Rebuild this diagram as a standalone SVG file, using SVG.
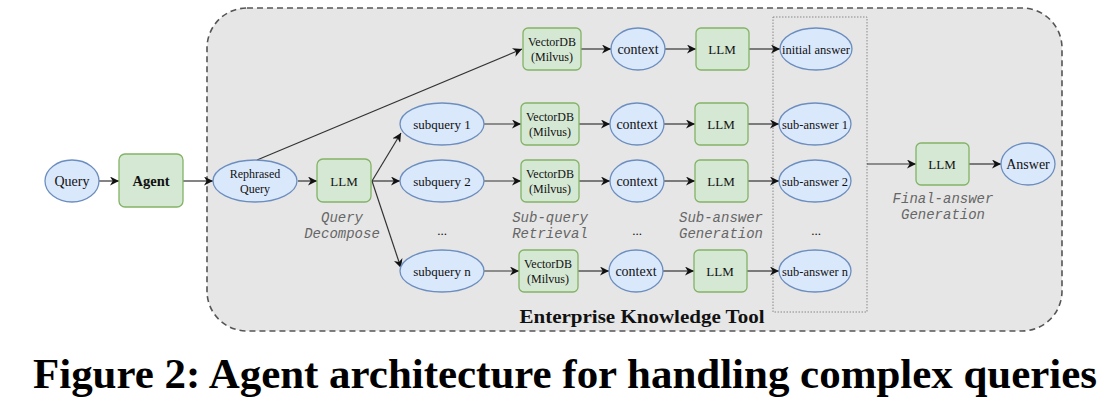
<svg xmlns="http://www.w3.org/2000/svg" width="1114" height="414" viewBox="0 0 1114 414">
<style>
.el{fill:#dae8fc;stroke:#6c8ebf;stroke-width:1.3}
.rc{fill:#d5e8d4;stroke:#82b366;stroke-width:1.3}
.t{font-family:"Liberation Serif",serif;font-size:13px;fill:#111;text-anchor:middle;dominant-baseline:central}
.s12{font-size:12px}
.s14{font-size:14px}
.tb{font-family:"Liberation Serif",serif;font-size:14.5px;font-weight:bold;fill:#111;text-anchor:middle;dominant-baseline:central}
.lab{font-family:"Liberation Mono",monospace;font-style:italic;font-size:14px;fill:#666;text-anchor:middle}
.ln{fill:none;stroke:#333;stroke-width:1.2;marker-end:url(#ah)}
</style>
<defs>
<marker id="ah" viewBox="0 0 10 10" refX="10" refY="5" markerWidth="9" markerHeight="9" markerUnits="userSpaceOnUse" orient="auto">
<path d="M0,0 L10,5 L0,10 L3,5 z" fill="#111"/>
</marker>
</defs>
<rect width="1114" height="414" fill="#fff"/>
<g id="container">
<rect x="207" y="8" width="855" height="323" rx="40" ry="40" fill="#e6e6e6" stroke="#555" stroke-width="1.6" stroke-dasharray="6,4"/>
<text x="642" y="323" font-family="Liberation Serif,serif" font-weight="bold" font-size="18" fill="#111" text-anchor="middle" textLength="245" lengthAdjust="spacingAndGlyphs">Enterprise Knowledge Tool</text>
</g>
<g id="answers-box">
<rect x="773" y="17" width="94" height="295" fill="none" stroke="#888" stroke-width="1" stroke-dasharray="1.5,1.5"/>
</g>
<g id="connectors">
<line class="ln" x1="99" y1="181" x2="119" y2="181"/>
<line class="ln" x1="183" y1="181" x2="213" y2="181"/>
<line class="ln" x1="298" y1="181" x2="317" y2="181"/>
<line class="ln" x1="257" y1="160" x2="522" y2="49"/>
<line class="ln" x1="372" y1="181" x2="401" y2="133"/>
<line class="ln" x1="372" y1="181" x2="400" y2="181"/>
<line class="ln" x1="372" y1="181" x2="401" y2="268"/>
<line class="ln" x1="581" y1="49" x2="611" y2="49"/>
<line class="ln" x1="665" y1="49" x2="696" y2="49"/>
<line class="ln" x1="749" y1="49" x2="780" y2="49"/>
<line class="ln" x1="484" y1="124" x2="521" y2="124"/>
<line class="ln" x1="579" y1="124" x2="610" y2="124"/>
<line class="ln" x1="664" y1="124" x2="695" y2="124"/>
<line class="ln" x1="748" y1="124" x2="779" y2="124"/>
<line class="ln" x1="484" y1="181" x2="521" y2="181"/>
<line class="ln" x1="579" y1="181" x2="610" y2="181"/>
<line class="ln" x1="664" y1="181" x2="695" y2="181"/>
<line class="ln" x1="748" y1="181" x2="779" y2="181"/>
<line class="ln" x1="484" y1="271" x2="519" y2="271"/>
<line class="ln" x1="578" y1="271" x2="609" y2="271"/>
<line class="ln" x1="663" y1="271" x2="694" y2="271"/>
<line class="ln" x1="747" y1="271" x2="779" y2="271"/>
<line class="ln" x1="867" y1="164" x2="916" y2="164"/>
<line class="ln" x1="969" y1="164" x2="1001" y2="164"/>
</g>
<g id="query"><ellipse class="el" cx="72" cy="181" rx="27" ry="21"/><text class="t s14" x="72" y="181">Query</text></g>
<g id="agent"><rect class="rc" x="119" y="154" width="64" height="53" rx="6"/><text class="tb" x="151" y="181">Agent</text></g>
<g id="rephrased"><ellipse class="el" cx="255" cy="181" rx="42" ry="21"/><text class="t s12" x="255" y="174">Rephrased</text><text class="t s12" x="255" y="189">Query</text></g>
<g id="llm-decompose"><rect class="rc" x="317" y="159" width="54" height="43" rx="6"/><text class="t" x="344" y="181">LLM</text>
<text class="lab" x="342" y="222">Query</text><text class="lab" x="342" y="238">Decompose</text></g>

<g id="vdb0"><rect class="rc" x="523" y="28" width="58" height="42" rx="5"/><text class="t s12" x="552" y="42">VectorDB</text><text class="t s12" x="552" y="57">(Milvus)</text></g>
<g id="ctx0"><ellipse class="el" cx="638" cy="49" rx="27" ry="21"/><text class="t s14" x="638" y="49">context</text></g>
<g id="llm0"><rect class="rc" x="696" y="28" width="53" height="42" rx="5"/><text class="t" x="722" y="49">LLM</text></g>
<g id="initial"><ellipse class="el" cx="816" cy="49" rx="36" ry="21"/><text class="t" x="816" y="49" textLength="68" lengthAdjust="spacingAndGlyphs">initial answer</text></g>

<g id="sq1"><ellipse class="el" cx="442" cy="124" rx="42" ry="21"/><text class="t" x="442" y="124">subquery 1</text></g>
<g id="vdb1"><rect class="rc" x="521" y="103" width="58" height="42" rx="5"/><text class="t s12" x="550" y="117">VectorDB</text><text class="t s12" x="550" y="132">(Milvus)</text></g>
<g id="ctx1"><ellipse class="el" cx="637" cy="124" rx="27" ry="21"/><text class="t s14" x="637" y="124">context</text></g>
<g id="llm1"><rect class="rc" x="695" y="103" width="53" height="42" rx="5"/><text class="t" x="721" y="124">LLM</text></g>
<g id="sa1"><ellipse class="el" cx="815" cy="124" rx="36" ry="21"/><text class="t" x="815" y="124" textLength="66" lengthAdjust="spacingAndGlyphs">sub-answer 1</text></g>

<g id="sq2"><ellipse class="el" cx="442" cy="181" rx="42" ry="21"/><text class="t" x="442" y="181">subquery 2</text></g>
<g id="vdb2"><rect class="rc" x="521" y="160" width="58" height="42" rx="5"/><text class="t s12" x="550" y="174">VectorDB</text><text class="t s12" x="550" y="189">(Milvus)</text></g>
<g id="ctx2"><ellipse class="el" cx="637" cy="181" rx="27" ry="21"/><text class="t s14" x="637" y="181">context</text></g>
<g id="llm2"><rect class="rc" x="695" y="160" width="53" height="42" rx="5"/><text class="t" x="721" y="181">LLM</text></g>
<g id="sa2"><ellipse class="el" cx="815" cy="181" rx="36" ry="21"/><text class="t" x="815" y="181" textLength="66" lengthAdjust="spacingAndGlyphs">sub-answer 2</text></g>

<g id="dots"><text class="t" x="442" y="230">...</text><text class="t" x="637" y="230">...</text><text class="t" x="816" y="230">...</text></g>
<g id="labels"><text class="lab" x="550" y="222">Sub-query</text><text class="lab" x="550" y="238">Retrieval</text>
<text class="lab" x="721" y="222">Sub-answer</text><text class="lab" x="721" y="238">Generation</text>
<text class="lab" x="943" y="203">Final-answer</text><text class="lab" x="943" y="219">Generation</text></g>

<g id="sqn"><ellipse class="el" cx="442" cy="271" rx="42" ry="21"/><text class="t" x="442" y="271">subquery n</text></g>
<g id="vdbn"><rect class="rc" x="519" y="250" width="59" height="42" rx="5"/><text class="t s12" x="548" y="264">VectorDB</text><text class="t s12" x="548" y="279">(Milvus)</text></g>
<g id="ctxn"><ellipse class="el" cx="636" cy="271" rx="27" ry="21"/><text class="t s14" x="636" y="271">context</text></g>
<g id="llmn"><rect class="rc" x="694" y="250" width="53" height="42" rx="5"/><text class="t" x="720" y="271">LLM</text></g>
<g id="san"><ellipse class="el" cx="815" cy="271" rx="36" ry="21"/><text class="t" x="815" y="271" textLength="66" lengthAdjust="spacingAndGlyphs">sub-answer n</text></g>

<g id="llm-final"><rect class="rc" x="916" y="143" width="53" height="42" rx="5"/><text class="t" x="942" y="164">LLM</text></g>
<g id="answer"><ellipse class="el" cx="1028" cy="164" rx="27" ry="21"/><text class="t s14" x="1028" y="164">Answer</text></g>

<text x="565" y="388" font-family="Liberation Serif,serif" font-weight="bold" font-size="42" fill="#000" text-anchor="middle" textLength="1064" lengthAdjust="spacingAndGlyphs">Figure 2: Agent architecture for handling complex queries</text>
</svg>
